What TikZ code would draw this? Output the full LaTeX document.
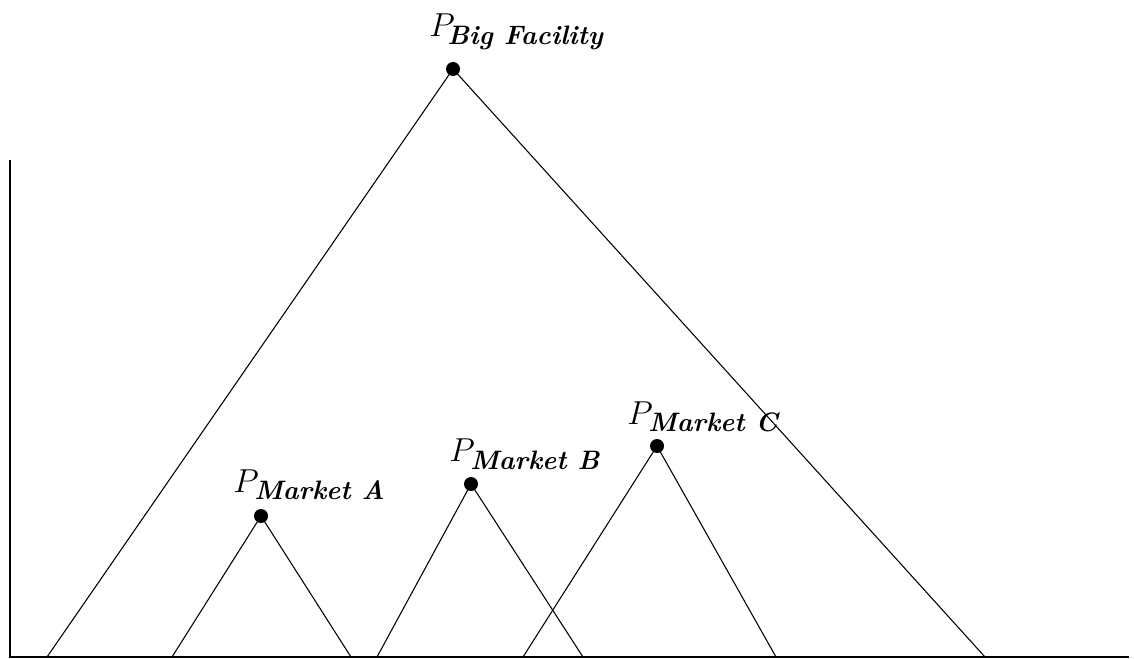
\documentclass[tikz,border=0pt]{standalone}
\begin{document}
\begin{tikzpicture}[x=0.75pt,y=-0.75pt,
  dotnode/.style={circle,fill=black,inner sep=0pt,minimum size=10.5pt},
  edge/.style={line width=0.8pt,line cap=round},
  axis/.style={line width=1.1pt},
  plabel/.style={anchor=base west,inner sep=0pt,font=\fontsize{25}{28}\selectfont},
  sublabel/.style={anchor=base west,inner sep=0pt,font=\fontsize{20}{24}\selectfont\bfseries\itshape}]
\useasboundingbox (0,0) rectangle (1134,659);
% axes
\coordinate (ytop) at (10,160);
\coordinate (orig) at (10,657);
\coordinate (xend) at (1129,657);
\draw[axis] (ytop) -- (orig) -- (xend);
% apex dots
\node[dotnode] (big) at (453,69) {};
\node[dotnode] (ma) at (261,516) {};
\node[dotnode] (mb) at (471,484) {};
\node[dotnode] (mc) at (657,446) {};
% base points
\coordinate (bigL) at (47,657);
\coordinate (bigR) at (985,657);
\coordinate (aL) at (172,657);
\coordinate (aR) at (351,657);
\coordinate (bL) at (377,657);
\coordinate (bR) at (583,657);
\coordinate (cL) at (523,657);
\coordinate (cR) at (776,657);
\draw[edge] (bigL) -- (big.center) -- (bigR);
\draw[edge] (aL) -- (ma.center) -- (aR);
\draw[edge] (bL) -- (mb.center) -- (bR);
\draw[edge] (cL) -- (mc.center) -- (cR);
% labels
\node[plabel] (pbig) at (429,37) {$P$};
\node[sublabel] (sbig) at (447,45) {Big Facility};
\node[plabel] (pa) at (233,492) {$P$};
\node[sublabel] (sa) at (254,499) {Market A};
\node[plabel] (pb) at (449,461) {$P$};
\node[sublabel] (sb) at (470,469) {Market B};
\node[plabel] (pc) at (627,424) {$P$};
\node[sublabel] (sc) at (648,431) {Market C};
\end{tikzpicture}
\end{document}
